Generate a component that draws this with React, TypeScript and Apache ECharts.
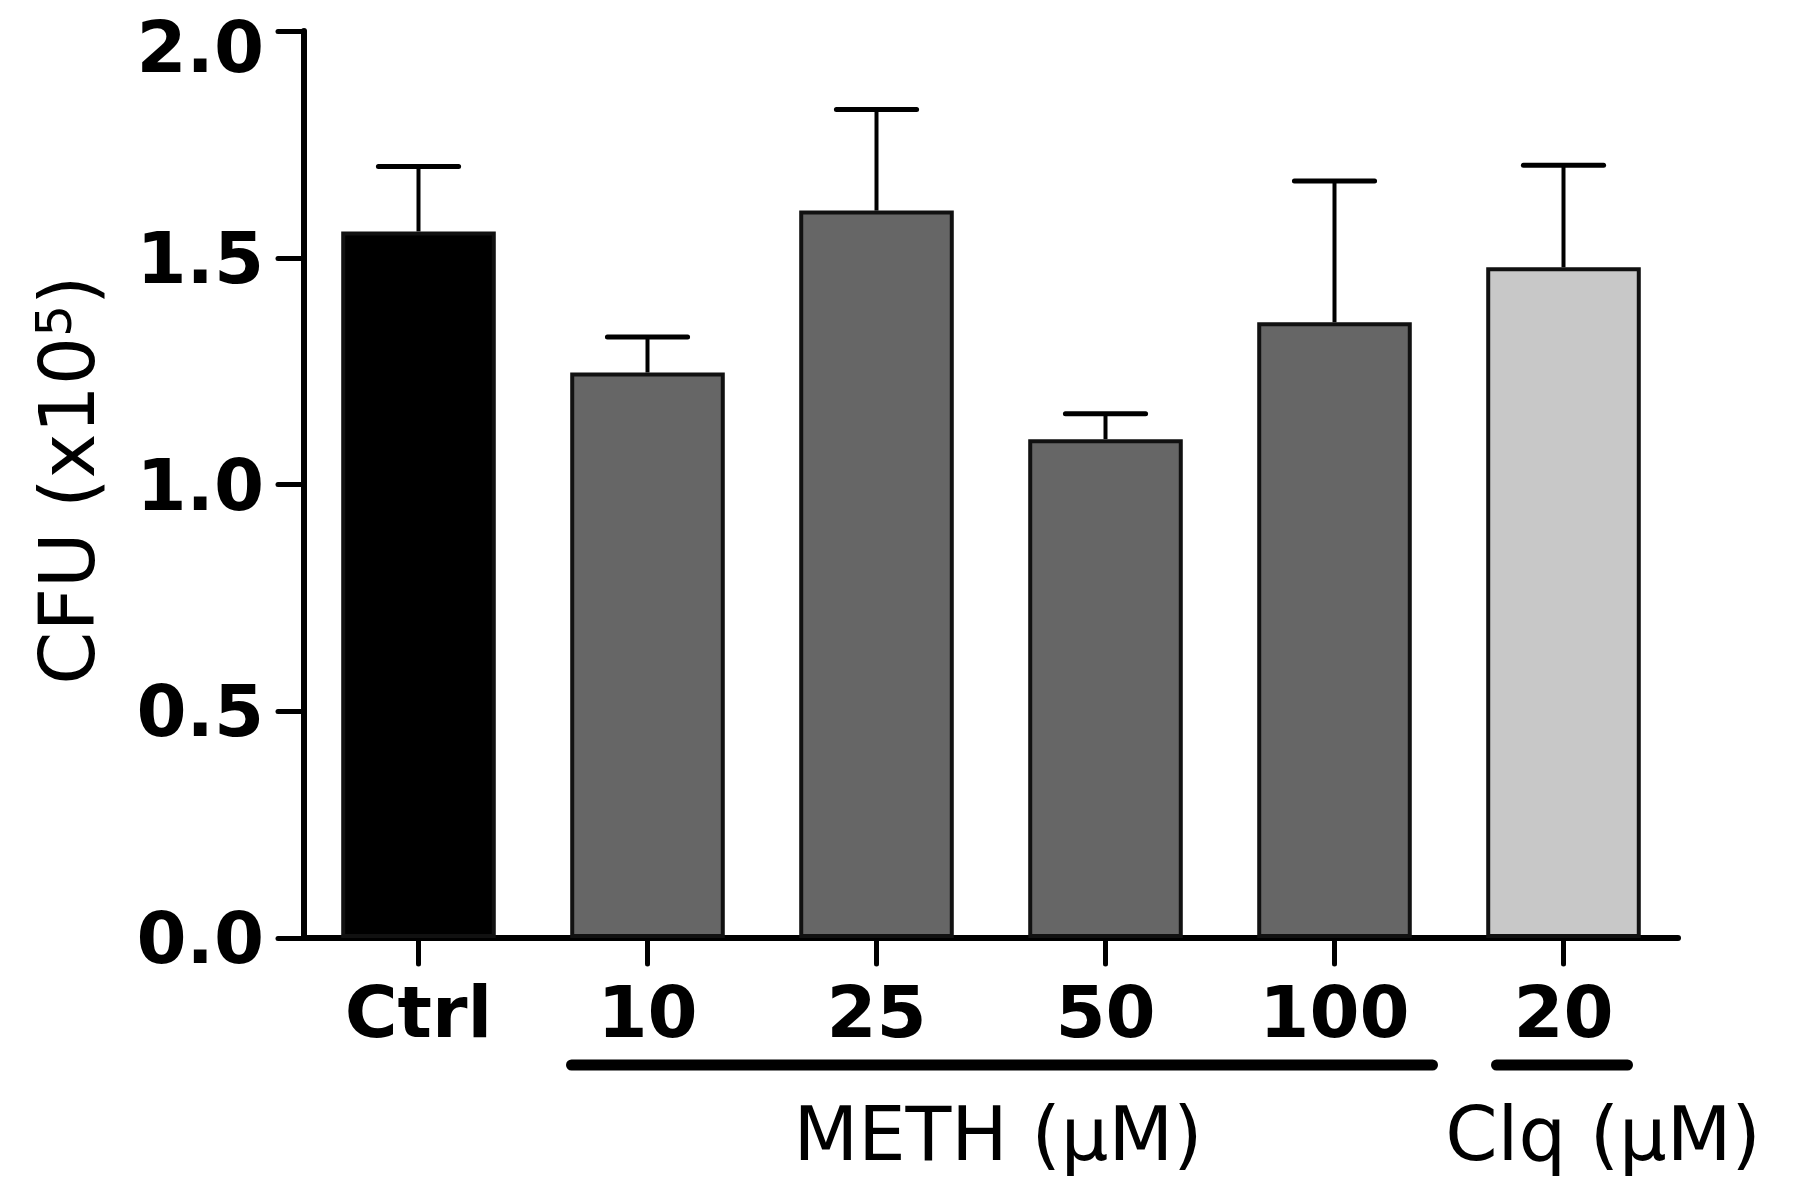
import React, { useEffect, useRef } from "react";
import * as echarts from "echarts";

const categories = ["Ctrl", "10", "25", "50", "100", "20"];
const means = [1.558, 1.247, 1.604, 1.1, 1.358, 1.479];
const errors = [0.143, 0.078, 0.223, 0.056, 0.311, 0.225];
const barColors = ["#000000", "#666666", "#666666", "#666666", "#666666", "#c8c8c8"];
const yTicks = [0, 0.5, 1.0, 1.5, 2.0];
const groupLabels = ["METH (μM)", "Clq (μM)"];

const FONT = "'DejaVu Sans', Verdana, sans-serif";

export default function App() {
  const ref = useRef<HTMLDivElement>(null);

  useEffect(() => {
    const chart = echarts.init(ref.current!, null, { renderer: "svg" });
    const yMax = yTicks[yTicks.length - 1];
    const option: any = {
      animation: false,
      backgroundColor: "#ffffff",
      grid: { left: 304, right: 122, top: 31, bottom: 254, containLabel: false },
      xAxis: {
        type: "category",
        data: categories,
        axisLine: { lineStyle: { color: "#000", width: 6, cap: "round" } },
        axisTick: { show: true, alignWithLabel: true, length: 26, lineStyle: { color: "#000", width: 5, cap: "round" } },
        axisLabel: { color: "#000", fontFamily: FONT, fontWeight: "bold", fontSize: 72, margin: 38 },
      },
      yAxis: {
        type: "value",
        min: yTicks[0],
        max: yMax,
        interval: 0.5,
        splitLine: { show: false },
        axisLine: { show: true, lineStyle: { color: "#000", width: 6, cap: "round" } },
        axisTick: { show: true, length: 26, lineStyle: { color: "#000", width: 5, cap: "round" } },
        axisLabel: {
          color: "#000",
          fontFamily: FONT,
          fontWeight: "bold",
          fontSize: 72,
          margin: 40,
          formatter: (v: number) => (v === yMax ? "{topl|" + v.toFixed(1) + "}" : v.toFixed(1)),
          rich: {
            topl: {
              color: "#000",
              fontFamily: FONT,
              fontWeight: "bold",
              fontSize: 72,
              padding: [32, 0, 0, 0],
            },
          },
        },
      },
      series: [
        {
          type: "bar",
          barWidth: "67.5%",
          data: means.map((m, i) => ({
            value: m,
            itemStyle: { color: barColors[i], borderColor: "#111", borderWidth: 4 },
          })),
          z: 2,
        },
        {
          type: "custom",
          z: 3,
          data: means.map((m, i) => [i, m, errors[i]]),
          renderItem: (params: any, api: any) => {
            const idx = api.value(0);
            const m = api.value(1);
            const e = api.value(2);
            const p0 = api.coord([idx, m]);
            const p1 = api.coord([idx, m + e]);
            const band = api.size([1, 0])[0];
            const half = band * 0.175;
            return {
              type: "group",
              children: [
                {
                  type: "line",
                  shape: { x1: p0[0], y1: p0[1], x2: p1[0], y2: p1[1] },
                  style: { stroke: "#000", lineWidth: 4 },
                },
                {
                  type: "line",
                  shape: { x1: p1[0] - half, y1: p1[1], x2: p1[0] + half, y2: p1[1] },
                  style: { stroke: "#000", lineWidth: 5, lineCap: "round" },
                },
              ],
            };
          },
        },
      ],
    };
    chart.setOption(option);

    const cx = (i: number) => chart.convertToPixel({ xAxisIndex: 0 }, categories[i]) as number;
    const lineY = 1065;
    const labelY = 1134;
    const methL = cx(1) - 76;
    const methR = cx(4) + 98;
    const clqL = cx(5) - 67;
    const clqR = cx(5) + 64;

    chart.setOption({
      graphic: [
        {
          type: "line",
          shape: { x1: methL, y1: lineY, x2: methR, y2: lineY },
          style: { stroke: "#000", lineWidth: 11, lineCap: "round" },
        },
        {
          type: "line",
          shape: { x1: clqL, y1: lineY, x2: clqR, y2: lineY },
          style: { stroke: "#000", lineWidth: 11, lineCap: "round" },
        },
        {
          type: "text",
          x: 998,
          y: labelY,
          style: {
            text: groupLabels[0],
            fontFamily: FONT,
            fontSize: 75,
            fill: "#000",
            align: "center",
            verticalAlign: "middle",
          },
        },
        {
          type: "text",
          x: 1603,
          y: labelY,
          style: {
            text: groupLabels[1],
            fontFamily: FONT,
            fontSize: 75,
            fill: "#000",
            align: "center",
            verticalAlign: "middle",
          },
        },
        {
          type: "text",
          x: 67,
          y: 480,
          rotation: Math.PI / 2,
          style: {
            text: "CFU (x10{sup|5})",
            fontFamily: FONT,
            fontSize: 76,
            fill: "#000",
            align: "center",
            verticalAlign: "middle",
            rich: {
              sup: {
                fontFamily: FONT,
                fontSize: 50,
                fill: "#000",
                verticalAlign: "top",
                padding: [0, 0, 24, 0],
              },
            },
          },
        },
      ],
    });

    return () => chart.dispose();
  }, []);

  return (
    <div
      ref={ref}
      style={{ position: "fixed", left: 0, top: 0, width: 1800, height: 1192, background: "#fff" }}
    />
  );
}
